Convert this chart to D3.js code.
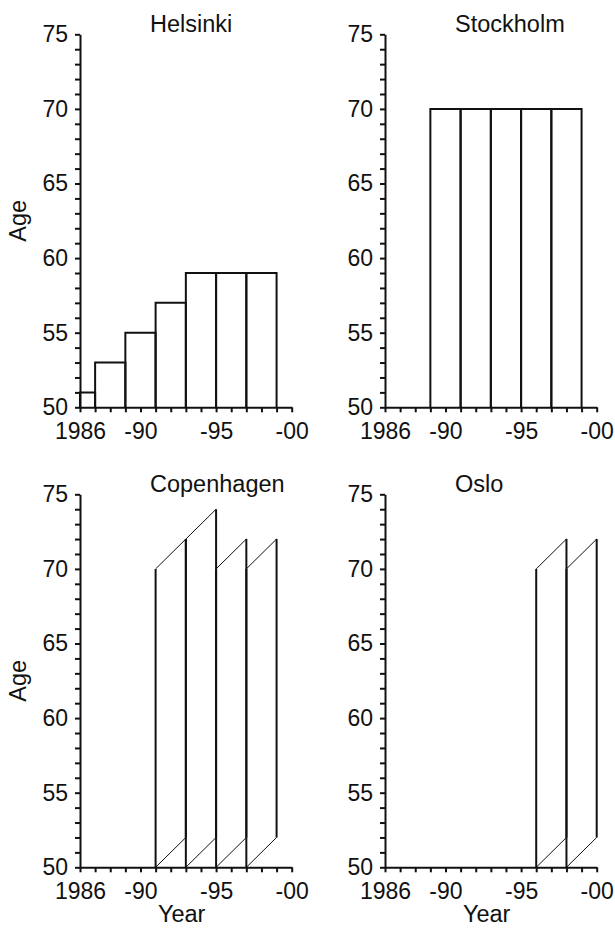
<!DOCTYPE html>
<html>
<head>
<meta charset="utf-8">
<script src="https://cdn.jsdelivr.net/npm/d3@7"></script>
<style>
  html, body { margin: 0; padding: 0; background: #fff; }
  svg text { font-family: "Liberation Sans", Arial, Helvetica, sans-serif; fill: #111; }
</style>
</head>
<body>
<svg id="chart" width="615" height="930"></svg>
<script>
// ---------- data ----------
const cities = ["Helsinki", "Stockholm", "Copenhagen", "Oslo"];
const xTickValues = [1986, 1990, 1995, 2000];
const xTickLabels = ["1986", "-90", "-95", "-00"];
const yTickValues = [50, 55, 60, 65, 70, 75];
const yTickLabels = ["50", "55", "60", "65", "70", "75"];

// Helsinki: period rectangles (start year, end year, age)
const helStart = [1986, 1987, 1989, 1991, 1993, 1995, 1997];
const helEnd   = [1987, 1989, 1991, 1993, 1995, 1997, 1999];
const helAge   = [51, 53, 55, 57, 59, 59, 59];

// Stockholm: period rectangles
const stoStart = [1989, 1991, 1993, 1995, 1997];
const stoEnd   = [1991, 1993, 1995, 1997, 1999];
const stoAge   = [70, 70, 70, 70, 70];

// Copenhagen: cohort parallelograms (start year, end year, top age at start)
const cphStart = [1991, 1993, 1995, 1997];
const cphEnd   = [1993, 1995, 1997, 1999];
const cphAge   = [70, 72, 70, 70];

// Oslo: cohort parallelograms
const osloStart = [1996, 1998];
const osloEnd   = [1998, 2000];
const osloAge   = [70, 70];

const baseAge = 50;

// ---------- layout ----------
const svg = d3.select("#chart");
const TICK_FONT = 23;
const TITLE_FONT = 23.5;
const panels = [
  { name: cities[0], ox: 80,  oy: 34.3, type: "period", s: helStart, e: helEnd, a: helAge, yLabel: true, xTitle: false },
  { name: cities[1], ox: 385, oy: 34.3, type: "period", s: stoStart, e: stoEnd, a: stoAge, yLabel: false, xTitle: false },
  { name: cities[2], ox: 80,  oy: 494.3, type: "cohort", s: cphStart, e: cphEnd, a: cphAge, yLabel: true, xTitle: true },
  { name: cities[3], ox: 385, oy: 494.3, type: "cohort", s: osloStart, e: osloEnd, a: osloAge, yLabel: false, xTitle: true }
];
const W = 211.7, H = 373;

panels.forEach(p => {
  const g = svg.append("g").attr("transform", `translate(${p.ox},${p.oy})`);
  const x = d3.scaleLinear().domain([1986, 2000]).range([0, W]);
  const y = d3.scaleLinear().domain([50, 75]).range([H, 0]);

  // marks
  const marks = g.append("g");
  p.s.forEach((s, i) => {
    const e = p.e[i], a = p.a[i];
    if (p.type === "period") {
      const path = d3.path();
      path.moveTo(x(s), y(baseAge));
      path.lineTo(x(s), y(a));
      path.lineTo(x(e), y(a));
      path.lineTo(x(e), y(baseAge));
      marks.append("path").attr("d", path.toString())
        .attr("fill", "none").attr("stroke", "#111").attr("stroke-width", 2);
    } else {
      const d = e - s;
      // vertical edges
      marks.append("line").attr("x1", x(s)).attr("x2", x(s)).attr("y1", y(baseAge)).attr("y2", y(a))
        .attr("stroke", "#111").attr("stroke-width", 2);
      marks.append("line").attr("x1", x(e)).attr("x2", x(e)).attr("y1", y(baseAge + d)).attr("y2", y(a + d))
        .attr("stroke", "#111").attr("stroke-width", 2);
      // diagonals (cohort lines)
      marks.append("line").attr("x1", x(s)).attr("x2", x(e)).attr("y1", y(a)).attr("y2", y(a + d))
        .attr("stroke", "#111").attr("stroke-width", 1);
      marks.append("line").attr("x1", x(s)).attr("x2", x(e)).attr("y1", y(baseAge)).attr("y2", y(baseAge + d))
        .attr("stroke", "#111").attr("stroke-width", 1);
    }
  });

  // y axis
  const yAxis = d3.axisLeft(y)
    .tickValues(d3.range(50, 76, 1))
    .tickSize(5).tickSizeOuter(0).tickPadding(7)
    .tickFormat(v => { const k = yTickValues.indexOf(v); return k >= 0 ? yTickLabels[k] : ""; });
  const ya = g.append("g").call(yAxis);
  // x axis
  const xAxis = d3.axisBottom(x)
    .tickValues(d3.range(1986, 2001, 1))
    .tickSize(5).tickSizeOuter(0).tickPadding(10)
    .tickFormat(v => { const k = xTickValues.indexOf(v); return k >= 0 ? xTickLabels[k] : ""; });
  const xa = g.append("g").attr("transform", `translate(0,${H})`).call(xAxis);

  [ya, xa].forEach(ax => {
    ax.select(".domain").attr("stroke", "#111").attr("stroke-width", 2);
    ax.selectAll(".tick line").attr("stroke", "#111").attr("stroke-width", 2);
    ax.selectAll(".tick text").attr("font-size", TICK_FONT).attr("fill", "#111")
      .style("font-family", '"Liberation Sans", Arial, sans-serif');
  });

  // title
  g.append("text").attr("x", 70).attr("y", -2).attr("font-size", TITLE_FONT).text(p.name);

  if (p.yLabel) {
    g.append("text").attr("transform", `translate(-54,${H / 2}) rotate(-90)`)
      .attr("text-anchor", "middle").attr("font-size", TITLE_FONT).text("Age");
  }
  if (p.xTitle) {
    g.append("text").attr("x", 101.7).attr("y", H + 55).attr("text-anchor", "middle")
      .attr("font-size", TITLE_FONT).text("Year");
  }
});
</script>
</body>
</html>
